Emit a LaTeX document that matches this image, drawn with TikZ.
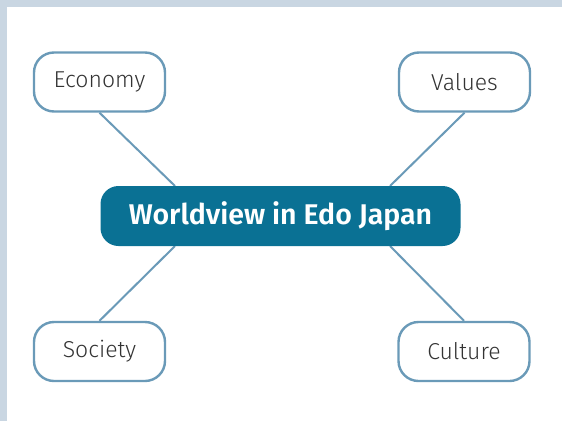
\documentclass[tikz,border=0pt]{standalone}
\usepackage{fontspec}
\setmainfont{Fira Sans}[UprightFont=* Light, BoldFont=* SemiBold]
\definecolor{frameblue}{HTML}{C9D6E2}
\definecolor{hubblue}{HTML}{0A7194}
\definecolor{leafline}{HTML}{6A9AB8}
\definecolor{leaftext}{HTML}{333333}
\tikzset{
  leaf/.style={draw=leafline, line width=2.4pt, fill=white, rounded corners=20pt,
    minimum width=131pt, minimum height=59pt, inner sep=0pt,
    font=\fontsize{23}{26}\selectfont, text=leaftext},
  hub/.style={fill=hubblue, rounded corners=18pt, minimum width=360pt, minimum height=60pt,
    inner sep=0pt, text=white, font=\fontsize{28.5}{31}\selectfont\bfseries},
  link/.style={draw=leafline, line width=2pt}
}
\begin{document}
\begin{tikzpicture}[x=1pt,y=-1pt]
\useasboundingbox (0,0) rectangle (562,421);
\fill[frameblue] (0,0) rectangle (562,421);
\fill[white] (7,7) rectangle (562,421);
\coordinate (c1) at (175,186);
\coordinate (c2) at (390,186);
\coordinate (c3) at (175,246);
\coordinate (c4) at (390,246);
\node[leaf] (eco) at (99.5,82) {Economy};
\node[leaf] (val) at (464.5,82) {Values};
\node[leaf] (soc) at (99.5,351.5) {Society};
\node[leaf] (cul) at (464,351.5) {Culture};
\draw[link] (eco.south) -- (c1);
\draw[link] (val.south) -- (c2);
\draw[link] (soc.north) -- (c3);
\draw[link] (cul.north) -- (c4);
\node[hub] (hub) at (280.5,216) {Worldview in Edo Japan};
\end{tikzpicture}
\end{document}
